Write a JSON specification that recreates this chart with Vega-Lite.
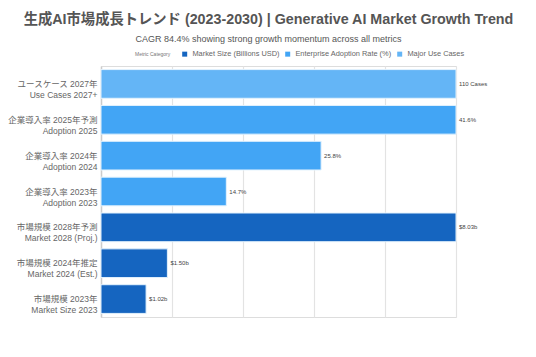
{
  "$schema": "https://vega.github.io/schema/vega-lite/v6.json",
  "width": 355,
  "height": 251,
  "autosize": {"type": "none"},
  "padding": {"left": 101, "top": 66, "right": 80, "bottom": 40},
  "background": "white",
  "title": {
    "text": "生成AI市場成長トレンド (2023-2030) | Generative AI Market Growth Trend",
    "subtitle": "CAGR 84.4% showing strong growth momentum across all metrics",
    "anchor": "middle",
    "frame": "group",
    "dx": -10,
    "font": "Liberation Sans, Noto Sans CJK JP",
    "fontSize": 14.3,
    "fontWeight": "bold",
    "color": "#555555",
    "subtitleFont": "Liberation Sans, Noto Sans CJK JP",
    "subtitleFontSize": 9,
    "subtitleColor": "#555555",
    "subtitlePadding": 8,
    "offset": 6
  },
  "data": {
    "values": [
      {"order": 1, "label": "ユースケース 2027年|Use Cases 2027+", "category": "Major Use Cases", "value": 110, "scaled": 1.0, "text": "110 Cases"},
      {"order": 2, "label": "企業導入率 2025年予測|Adoption 2025", "category": "Enterprise Adoption Rate (%)", "value": 41.6, "scaled": 1.0, "text": "41.6%"},
      {"order": 3, "label": "企業導入率 2024年|Adoption 2024", "category": "Enterprise Adoption Rate (%)", "value": 25.8, "scaled": 0.62, "text": "25.8%"},
      {"order": 4, "label": "企業導入率 2023年|Adoption 2023", "category": "Enterprise Adoption Rate (%)", "value": 14.7, "scaled": 0.353, "text": "14.7%"},
      {"order": 5, "label": "市場規模 2028年予測|Market 2028 (Proj.)", "category": "Market Size (Billions USD)", "value": 8.03, "scaled": 1.0, "text": "$8.03b"},
      {"order": 6, "label": "市場規模 2024年推定|Market 2024 (Est.)", "category": "Market Size (Billions USD)", "value": 1.5, "scaled": 0.187, "text": "$1.50b"},
      {"order": 7, "label": "市場規模 2023年|Market Size 2023", "category": "Market Size (Billions USD)", "value": 1.02, "scaled": 0.127, "text": "$1.02b"}
    ]
  },
  "encoding": {
    "y": {
      "field": "label",
      "type": "nominal",
      "sort": {"field": "order"},
      "title": null,
      "scale": {"paddingInner": 0.2, "paddingOuter": 0.1},
      "axis": {
        "labelExpr": "split(datum.label, '|')",
        "labelFont": "Liberation Sans, Noto Sans CJK JP",
        "labelFontSize": 8.5,
        "labelColor": "#666666",
        "labelLineHeight": 11,
        "labelPadding": 4,
        "ticks": false,
        "domainColor": "#cccccc",
        "domainWidth": 1.5,
        "grid": false
      }
    },
    "x": {
      "field": "scaled",
      "type": "quantitative",
      "title": null,
      "scale": {"domain": [0, 1], "nice": false},
      "axis": {
        "values": [0, 0.2, 0.4, 0.6, 0.8, 1.0],
        "labels": false,
        "ticks": false,
        "domain": false,
        "grid": true,
        "gridColor": "#e3e3e3",
        "gridWidth": 1.2
      }
    }
  },
  "layer": [
    {
      "mark": {"type": "bar", "stroke": "#e3f2fd", "strokeWidth": 1},
      "encoding": {
        "color": {
          "field": "category",
          "type": "nominal",
          "scale": {
            "domain": ["Market Size (Billions USD)", "Enterprise Adoption Rate (%)", "Major Use Cases"],
            "range": ["#1565C0", "#42A5F5", "#64B5F6"]
          },
          "legend": {
            "title": "Metric Category",
            "orient": "none",
            "legendX": 34,
            "legendY": -16,
            "direction": "horizontal",
            "titleOrient": "left",
            "titleFont": "Liberation Sans",
            "titleFontSize": 5,
            "titleFontWeight": "normal",
            "titleColor": "#777777",
            "titlePadding": 10,
            "labelFont": "Liberation Sans",
            "labelFontSize": 7.4,
            "labelColor": "#666666",
            "symbolType": "square",
            "symbolSize": 25,
            "symbolStrokeWidth": 0,
            "columnPadding": 4,
            "labelOffset": 4
          }
        }
      }
    },
    {
      "mark": {"type": "text", "align": "left", "dx": 3, "font": "Liberation Sans", "fontSize": 6, "color": "#444444"},
      "encoding": {"text": {"field": "text"}}
    }
  ]
}
